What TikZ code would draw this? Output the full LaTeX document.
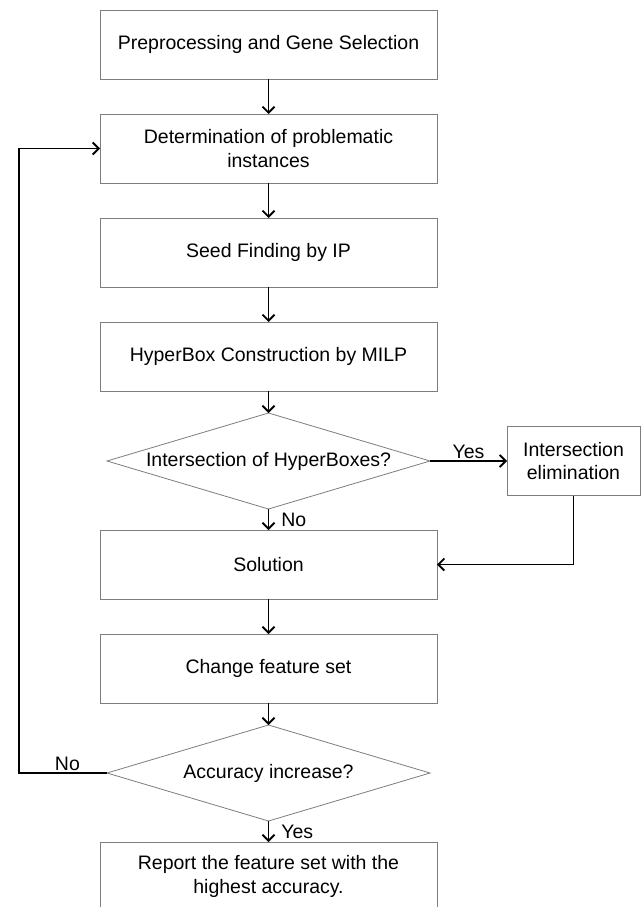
\documentclass[tikz,border=0pt]{standalone}
\usepackage{fontspec}
\setmainfont{Liberation Sans}
\usepackage{tikz}
\usetikzlibrary{
  positioning,
  shapes.geometric,
  arrows.meta
}
\usepackage{xcolor}
\definecolor{boxgray}{RGB}{125,125,125}

\begin{document}
\begin{tikzpicture}[x=1pt,y=1pt,node distance=35pt,auto,
    >={Straight Barb[length=6pt,width=12pt]},
    font=\fontsize{19.5}{23.5}\selectfont,
    process/.style={draw=boxgray,line width=0.8pt,rectangle,minimum width=337pt,minimum height=69pt,align=center,inner sep=2pt,outer sep=0pt},
    decision/.style={draw=boxgray,line width=0.8pt,diamond,aspect=3.36,minimum width=323pt,minimum height=96pt,inner sep=0pt,outer sep=0pt},
    link/.style={line width=1.8pt}]
            \useasboundingbox (0,0) rectangle (643,-907);
            \node[process] (prep) at (268.5,-44.5) {Preprocessing and Gene Selection};
            \node[process,below=of prep] (problem) {Determination of problematic\\instances};
            \node[process,below=of problem] (seed) {Seed Finding by IP};
            \node[process,below=of seed] (hbox) {HyperBox Construction by MILP};
            \node[decision,below=22pt of hbox] (interq) {Intersection of HyperBoxes?};
            \node[process,minimum width=133pt,right=77pt of interq] (elim) {Intersection\\elimination};
            \node[process,below=21pt of interq] (sol) {Solution};
            \node[process,below=of sol] (change) {Change feature set};
            \node[decision,below=22pt of change] (accq) {Accuracy increase?};
            \node[process,below=21pt of accq] (report) {Report the feature set with the\\highest accuracy.};
            % main flow
            \draw[link,->] (prep) -- (problem);
            \draw[link,->] (problem) -- (seed);
            \draw[link,->] (seed) -- (hbox);
            \draw[link,->] (hbox) -- (interq);
            \draw[link,->] (interq) -- node[right,inner sep=12pt] {No} (sol);
            \draw[link,->] (interq) -- node[above,inner sep=1pt] {Yes} (elim);
            \draw[link,->] (elim.south) |- (sol.east);
            \draw[link,->] (sol) -- (change);
            \draw[link,->] (change) -- (accq);
            \draw[link,->] (accq) -- node[right,inner sep=12pt] {Yes} (report);
            % loop back
            \draw[link,->] (accq.west) -- node[above,pos=0.45,inner sep=1pt] {No} ++(-88,0) |- (problem.west);
        \end{tikzpicture}
\end{document}
